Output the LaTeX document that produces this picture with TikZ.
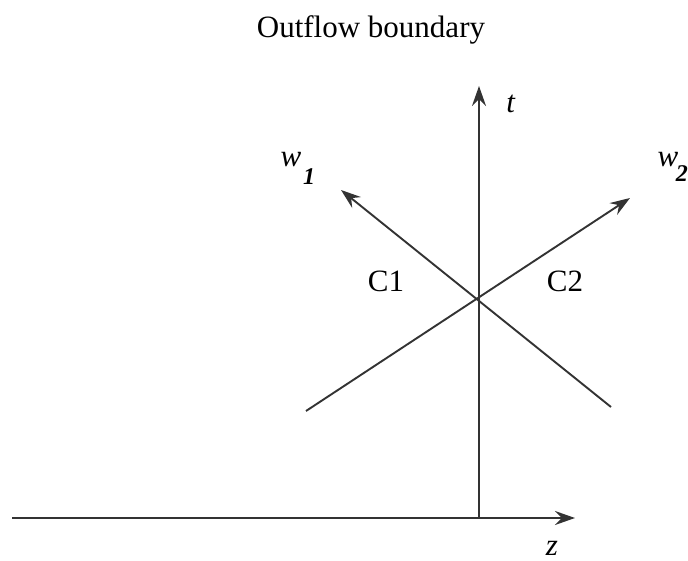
\documentclass[tikz,border=0pt]{standalone}
\usepackage{fontspec}
\setmainfont{Liberation Serif}
\usetikzlibrary{arrows.meta}
\begin{document}
\begin{tikzpicture}[x=1pt,y=-1pt,
  axis/.style={line width=1.9pt,draw=black!80,-{Stealth[length=20pt,width=14pt,inset=7pt]}},
  lbl/.style={font=\fontsize{31}{33}\selectfont,inner sep=0pt}]
\useasboundingbox (0,0) rectangle (688,561);
\coordinate (O) at (479,518);
\coordinate (ztip) at (575,518);
\coordinate (zstart) at (12,518);
\coordinate (ttip) at (479,86);
\coordinate (w1s) at (611,407);
\coordinate (w1t) at (341,190);
\coordinate (w2s) at (306,411);
\coordinate (w2t) at (630,198);
\draw[axis] (zstart) -- (ztip);
\draw[axis] (O) -- (ttip);
\draw[axis] (w1s) -- (w1t);
\draw[axis] (w2s) -- (w2t);
\node[lbl] (title) at (371,30) {Outflow boundary};
\node[lbl] (tl) at (511,104) {\textit{t}};
\node[lbl] (zl) at (552,548) {\textit{z}};
\node[lbl] (c1) at (386,281) {C1};
\node[lbl] (c2) at (565,281) {C2};
\node[lbl] (w1) at (291,160) {\textit{w}};
\node[lbl,font=\fontsize{24}{26}\selectfont\bfseries\itshape] (w1s1) at (309,177) {1};
\node[lbl] (w2) at (668,160) {\textit{w}};
\node[lbl,font=\fontsize{24}{26}\selectfont\bfseries\itshape,anchor=east] (w2s2) at (688,174) {2};
\end{tikzpicture}
\end{document}
